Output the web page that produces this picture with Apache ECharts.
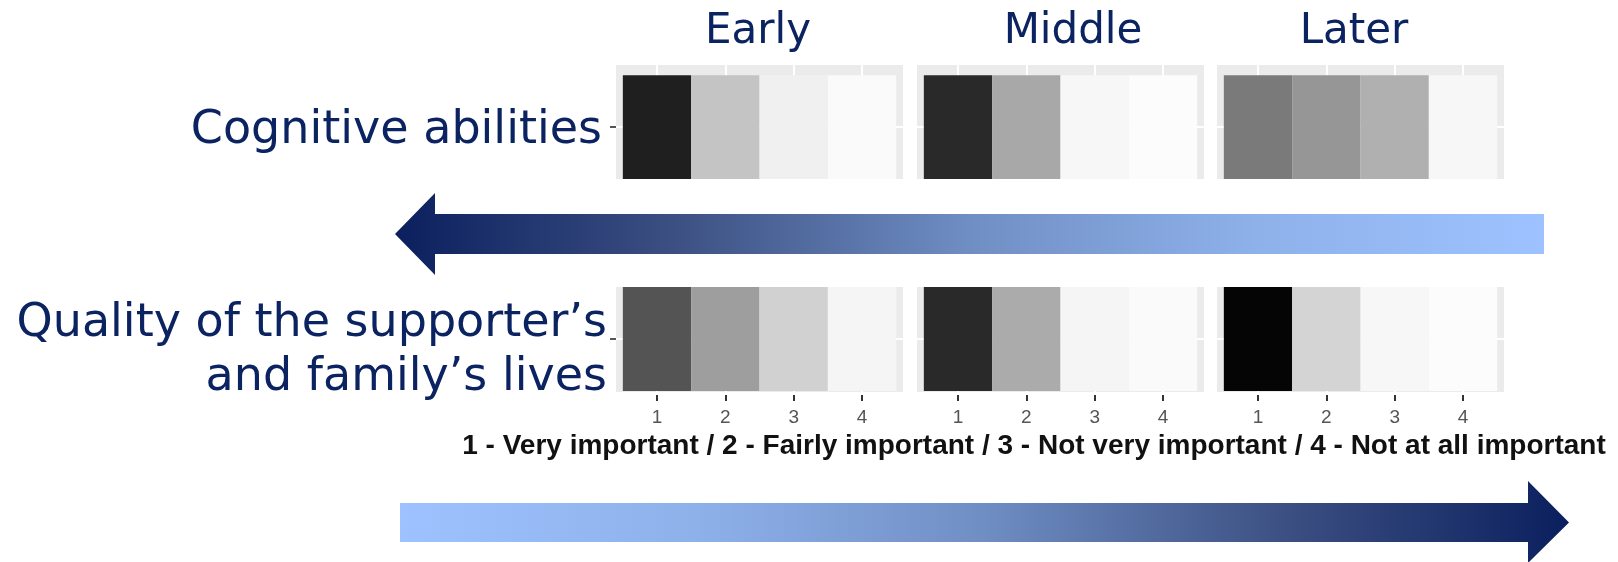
<!DOCTYPE html>
<html>
<head>
<meta charset="utf-8">
<script src="https://cdn.jsdelivr.net/npm/echarts@6/dist/echarts.min.js"></script>
<style>
html, body { margin: 0; padding: 0; background: #ffffff; }
#chart { width: 1618px; height: 562px; }
</style>
</head>
<body>
<div id="chart"></div>
<script>
// ---- data ----
const importanceLevels = [1, 2, 3, 4];
const tickLabels = ['1', '2', '3', '4'];
const stages = ['Early', 'Middle', 'Later'];
const factors = ['Cognitive abilities', 'Quality of the supporter\u2019s\nand family\u2019s lives'];
// shading intensity (0 = white, 100 = black) read from each tile
const cognitiveEarly = [88, 23, 6, 2];
const cognitiveMiddle = [84, 34, 3, 1];
const cognitiveLater = [52, 41, 31, 3];
const qualityEarly = [67, 38, 18, 4];
const qualityMiddle = [84, 33, 4, 2];
const qualityLater = [98, 17, 3, 1];
const scaleTitle = '1 - Very important / 2 - Fairly important / 3 - Not very important / 4 - Not at all important';

const rowsData = [
  [cognitiveEarly, cognitiveMiddle, cognitiveLater],
  [qualityEarly, qualityMiddle, qualityLater]
];

// ---- layout / style ----
const NAVY = '#0b2361';
const panelLeft = [616, 917, 1217];
const panelWidth = 287;
const rowLayout = [
  { top: 65, height: 114, yMin: 0.5, yMax: 1.6 },
  { top: 287, height: 105, yMin: 0.49, yMax: 1.5 }
];

const grid = [], xAxis = [], yAxis = [], series = [];
rowLayout.forEach((row, r) => {
  panelLeft.forEach((left, c) => {
    const idx = r * 3 + c;
    grid.push({
      left: left, top: row.top, width: panelWidth, height: row.height,
      show: true, backgroundColor: '#ebebeb', borderWidth: 0
    });
    xAxis.push({
      gridIndex: idx, type: 'value', min: 0.4, max: 4.6,
      offset: 3,
      axisLine: { show: false },
      axisTick: { show: r === 1, customValues: importanceLevels, length: 6,
                  lineStyle: { color: '#333333', width: 2 } },
      axisLabel: { show: r === 1, customValues: importanceLevels,
                   formatter: v => tickLabels[importanceLevels.indexOf(v)],
                   color: '#555555', fontSize: 19, fontFamily: 'Liberation Sans', margin: 13 },
      splitLine: { show: true, lineStyle: { color: '#ffffff', width: 2 } }
    });
    yAxis.push({
      gridIndex: idx, type: 'value', min: row.yMin, max: row.yMax,
      axisLine: { show: false },
      axisTick: { show: c === 0, customValues: [1], length: 6,
                  lineStyle: { color: '#555555', width: 2 } },
      axisLabel: { show: false, customValues: [1] },
      splitLine: { show: true, lineStyle: { color: '#ffffff', width: 2 } }
    });
    series.push({
      type: 'custom',
      xAxisIndex: idx, yAxisIndex: idx,
      encode: { x: 0, y: 1 },
      data: rowsData[r][c].map((v, i) => [importanceLevels[i], 1, v]),
      renderItem: function (params, api) {
        const x = api.value(0), y = api.value(1);
        const p0 = api.coord([x - 0.5, y + 0.5]);
        const p1 = api.coord([x + 0.5, y - 0.5]);
        const cs = params.coordSys;
        const shape = echarts.graphic.clipRectByRect(
          { x: p0[0], y: p0[1], width: p1[0] - p0[0], height: p1[1] - p0[1] },
          { x: cs.x, y: cs.y, width: cs.width, height: cs.height });
        return shape && { type: 'rect', shape: shape, style: { fill: api.visual('color') } };
      }
    });
  });
});

function arrowPoints(x0, x1, shaftTop, shaftBot, headTop, headBot, headLen, pointLeft) {
  const mid = (shaftTop + shaftBot) / 2;
  if (pointLeft) {
    const b = x0 + headLen;
    return [[x0, mid], [b, headTop], [b, shaftTop], [x1, shaftTop], [x1, shaftBot], [b, shaftBot], [b, headBot]];
  }
  const b = x1 - headLen;
  return [[x0, shaftTop], [b, shaftTop], [b, headTop], [x1, mid], [b, headBot], [b, shaftBot], [x0, shaftBot]];
}
const gradStops = [
  { offset: 0, color: '#0b1f5e' },
  { offset: 0.25, color: '#3d5184' },
  { offset: 0.5, color: '#6f8ec4' },
  { offset: 0.75, color: '#8fb1ea' },
  { offset: 1, color: '#9dc2ff' }
];
const gradStopsRev = gradStops.map(s => ({ offset: 1 - s.offset, color: s.color })).reverse();

const titleFont = 'normal 42px "DejaVu Sans"';
const rowFont = 'normal 46px "DejaVu Sans"';
const graphic = [
  { type: 'polygon', silent: true,
    shape: { points: arrowPoints(395, 1544, 214, 254, 193, 275, 40, true) },
    style: { fill: new echarts.graphic.LinearGradient(0, 0, 1, 0, gradStops) } },
  { type: 'polygon', silent: true,
    shape: { points: arrowPoints(400, 1569, 503, 542, 481, 563, 41, false) },
    style: { fill: new echarts.graphic.LinearGradient(0, 0, 1, 0, gradStopsRev) } },
  { type: 'text', x: 758, y: 32, style: { text: stages[0], font: titleFont, fill: NAVY, align: 'center', verticalAlign: 'middle' } },
  { type: 'text', x: 1073, y: 32, style: { text: stages[1], font: titleFont, fill: NAVY, align: 'center', verticalAlign: 'middle' } },
  { type: 'text', x: 1354, y: 32, style: { text: stages[2], font: titleFont, fill: NAVY, align: 'center', verticalAlign: 'middle' } },
  { type: 'text', x: 602, y: 131, style: { text: factors[0], font: rowFont, fill: NAVY, align: 'right', verticalAlign: 'middle' } },
  { type: 'text', x: 607, y: 351, style: { text: factors[1], font: rowFont, lineHeight: 54, fill: NAVY, align: 'right', verticalAlign: 'middle' } },
  { type: 'text', x: 1034, y: 446, style: { text: scaleTitle, font: 'bold 28px "Liberation Sans"', fill: '#111111', align: 'center', verticalAlign: 'middle' } }
];

const chart = echarts.init(document.getElementById('chart'), null, { renderer: 'canvas' });
chart.setOption({
  animation: false,
  backgroundColor: '#ffffff',
  grid: grid,
  xAxis: xAxis,
  yAxis: yAxis,
  visualMap: {
    type: 'continuous', show: false, dimension: 2, min: 0, max: 100,
    seriesIndex: series.map((s, i) => i),
    inRange: { color: ['#ffffff', '#000000'] }
  },
  series: series,
  graphic: graphic
});
</script>
</body>
</html>
